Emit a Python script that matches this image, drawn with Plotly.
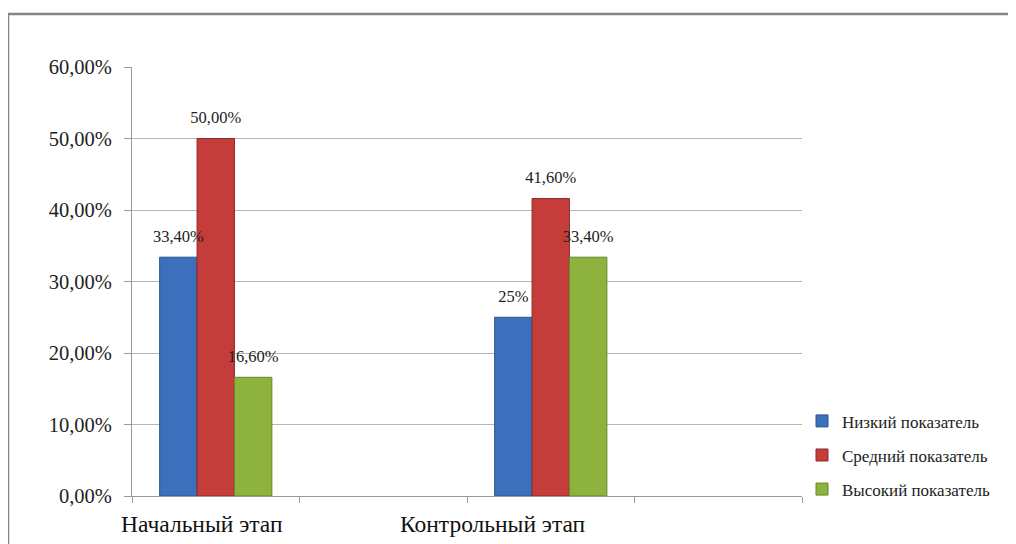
import plotly.graph_objects as go

categories = ["Начальный этап", "", "Контрольный этап", " "]
bar_categories = ["Начальный этап", "Контрольный этап"]
series_names = ["Низкий показатель", "Средний показатель", "Высокий показатель"]
low_values = [0.334, 0.25]
mid_values = [0.50, 0.416]
high_values = [0.166, 0.334]
low_labels = ["33,40%", "25%"]
mid_labels = ["50,00%", "41,60%"]
high_labels = ["16,60%", "33,40%"]
y_ticks = [0, 0.1, 0.2, 0.3, 0.4, 0.5, 0.6]

colors = ["#3D70BC", "#C53D3A", "#8DB23E"]
edge_colors = ["#2A5590", "#8E2A27", "#66862A"]
SERIF = "Liberation Serif, Times New Roman, serif"

W, H = 1016, 544
OFF = 8  # page body margin
L, R, T, B = 132 - OFF, 1016 - 802 + OFF, 67 - OFF, 544 - 496.5 + OFF

fig = go.Figure()
series = [(low_values, low_labels), (mid_values, mid_labels), (high_values, high_labels)]
for i, (vals, labs) in enumerate(series):
    fig.add_trace(go.Bar(
        x=bar_categories, y=vals, name=series_names[i],
        marker=dict(color=colors[i], line=dict(color=edge_colors[i], width=1)),
        offsetgroup=str(i), legendgroup=str(i),
    ))
for i, (vals, labs) in enumerate(series):
    fig.add_trace(go.Scatter(
        x=bar_categories, y=vals, mode="markers+text", text=labs,
        textposition="top center", offsetgroup=str(i), legendgroup=str(i),
        showlegend=False, hoverinfo="skip", cliponaxis=False,
        marker=dict(size=16, color="rgba(0,0,0,0)"),
        textfont=dict(family=SERIF, size=16.5, color="#222"),
    ))

fig.update_layout(
    width=W, height=H,
    margin=dict(l=L, r=R, t=T, b=B),
    paper_bgcolor="white", plot_bgcolor="white",
    barmode="group", bargap=0.33, bargroupgap=0,
    scattermode="group", scattergap=0.33,
    separators=", ",
    font=dict(family=SERIF, color="#222"),
    showlegend=True,
    legend=dict(
        x=1.0, xanchor="left", y=0.216, yanchor="top",
        font=dict(family=SERIF, size=17, color="#222"),
        traceorder="grouped", tracegroupgap=9,
        bgcolor="rgba(0,0,0,0)",
    ),
    xaxis=dict(
        type="category", categoryorder="array", categoryarray=categories,
        range=[-0.5, 3.5], showticklabels=False,
        tickson="boundaries", ticks="outside", ticklen=6, tickcolor="#999",
        showline=True, linecolor="#999", linewidth=1, showgrid=False,
    ),
    yaxis=dict(
        range=[0, 0.6], tickvals=y_ticks, tickformat=".2%",
        ticks="outside", ticklen=7, tickcolor="#999",
        showline=True, linecolor="#999", linewidth=1,
        showgrid=True, gridcolor="#B5B5B5", gridwidth=1,
        tickfont=dict(family=SERIF, size=20.5, color="#222"),
        ticklabelstandoff=8, zeroline=False,
    ),
)

# category labels
label_shift = [-14, -58]
for cat, sh in zip(bar_categories, label_shift):
    fig.add_annotation(
        x=cat, y=0, xref="x", yref="paper", yanchor="top", yshift=-13, xshift=sh,
        text=cat, showarrow=False,
        font=dict(family=SERIF, size=23.5, color="#111"),
    )

# outer chart border
pw, ph = W - L - R, H - T - B
fig.add_shape(
    type="rect", xref="paper", yref="paper",
    x0=(8 - OFF - L) / pw, x1=(1040 - L) / pw,
    y0=(H - B - 560) / ph, y1=(H - B - (14 - OFF)) / ph,
    line=dict(color="#858585", width=2.5), layer="below",
)

fig.write_html("out.html")
